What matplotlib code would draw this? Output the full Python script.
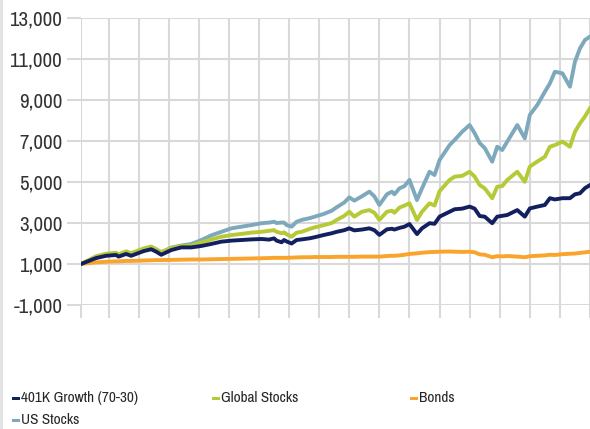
import matplotlib
matplotlib.use("Agg")
import matplotlib.pyplot as plt
from matplotlib.patches import Rectangle

plt.rcParams['font.family'] = ['Archivo Narrow', 'Roboto Condensed', 'DejaVu Sans']

# month index of each sample point
months = [0, 6, 10, 14, 15, 18, 20, 25, 28, 30,
          32, 36, 40, 44, 48, 52, 56, 60, 64, 68,
          72, 75, 77, 78, 80, 81, 82, 84, 86, 88,
          91, 93, 97, 100, 102, 105, 107, 109, 112, 115,
          117, 119, 122, 124, 125, 127, 129, 131, 134, 136,
          139, 141, 143, 147, 149, 152, 155, 157, 159, 161,
          164, 166, 168, 170, 174, 177, 179, 182, 185, 187,
          189, 192, 195, 197, 199, 201, 203]

growth_401k = [1000, 1290, 1400, 1440, 1360, 1490, 1400, 1630, 1720, 1600,
               1450, 1680, 1810, 1810, 1880, 1980, 2090, 2140, 2170, 2200,
               2220, 2190, 2250, 2140, 2060, 2170, 2100, 2000, 2170, 2200,
               2250, 2300, 2420, 2500, 2570, 2650, 2740, 2640, 2680, 2740,
               2650, 2420, 2690, 2720, 2680, 2760, 2820, 2950, 2460, 2740,
               2990, 2960, 3310, 3550, 3670, 3700, 3800, 3700, 3340, 3310,
               2990, 3310, 3350, 3390, 3630, 3310, 3710, 3800, 3880, 4210,
               4150, 4210, 4210, 4400, 4450, 4700, 4850]

global_stocks = [1000, 1380, 1500, 1550, 1470, 1620, 1530, 1760, 1850, 1720,
                 1580, 1780, 1880, 1900, 2050, 2200, 2330, 2410, 2470, 2530,
                 2570, 2620, 2650, 2570, 2500, 2540, 2450, 2330, 2530, 2570,
                 2700, 2780, 2900, 3000, 3150, 3350, 3550, 3310, 3550, 3630,
                 3500, 3150, 3550, 3600, 3500, 3750, 3850, 3960, 3150, 3550,
                 3960, 3850, 4550, 5100, 5260, 5300, 5500, 5260, 4850, 4690,
                 4210, 4770, 4800, 5100, 5500, 5010, 5750, 6000, 6230, 6720,
                 6800, 6970, 6720, 7450, 7860, 8200, 8600]

bonds = [1000, 1080, 1110, 1130, 1130, 1150, 1150, 1170, 1180, 1190,
         1190, 1200, 1210, 1220, 1220, 1230, 1240, 1250, 1260, 1270,
         1280, 1290, 1300, 1300, 1300, 1300, 1300, 1310, 1320, 1330,
         1330, 1340, 1340, 1340, 1350, 1350, 1350, 1350, 1360, 1360,
         1360, 1360, 1390, 1400, 1400, 1420, 1450, 1490, 1520, 1550,
         1580, 1590, 1600, 1610, 1600, 1590, 1600, 1570, 1470, 1450,
         1330, 1380, 1370, 1390, 1360, 1330, 1380, 1400, 1420, 1450,
         1440, 1480, 1500, 1510, 1540, 1570, 1600]

us_stocks = [1000, 1300, 1450, 1500, 1420, 1560, 1480, 1700, 1800, 1700,
             1560, 1800, 1900, 1980, 2170, 2400, 2570, 2740, 2820, 2900,
             2990, 3020, 3060, 3000, 3020, 3020, 2900, 2820, 3060, 3150,
             3230, 3300, 3450, 3600, 3770, 4000, 4250, 4090, 4300, 4530,
             4300, 3880, 4400, 4530, 4400, 4690, 4800, 5100, 4120, 4690,
             5500, 5340, 6070, 6800, 7050, 7450, 7780, 7380, 6900, 6660,
             5990, 6720, 6560, 6970, 7780, 7130, 8270, 8760, 9400, 9810,
             10380, 10300, 9650, 10870, 11520, 11930, 12090]

series_names = ["401K Growth (70-30)", "Global Stocks", "Bonds", "US Stocks"]
series_colors = ["#13205f", "#b6c936", "#f9a42a", "#7ea9bd"]
y_ticks = [-1000, 1000, 3000, 5000, 7000, 9000, 11000, 13000]
x_ticks = [0] + [11 + 12 * k for k in range(17)]

fig = plt.figure(figsize=(5.9, 4.29), dpi=100)
fig.patches.append(Rectangle((0, 0), 3 / 590, 1, transform=fig.transFigure,
                             facecolor="#e3e3e3", edgecolor="none"))
ax = fig.add_axes([81 / 590, 1 - 305 / 429, 1 - 81 / 590, (305 - 18) / 429])

data = [growth_401k, global_stocks, bonds, us_stocks]
zorders = [5, 4, 3, 2]
for vals, col, z, name in zip(data, series_colors, zorders, series_names):
    ax.plot(months, vals, color=col, lw=2.8, zorder=z, label=name, solid_joinstyle="round")

ax.set_xlim(0, 203)
ax.set_ylim(-1000, 13000)
ax.set_yticks(y_ticks)
ax.set_yticklabels([f"{v:,}" for v in y_ticks])
ax.set_xticks(x_ticks)
ax.set_xticklabels([])
ax.grid(True, color="#d9d9d9", lw=1.5, zorder=0)
ax.set_axisbelow(True)
for s in ax.spines.values():
    s.set_visible(False)
ax.tick_params(axis="y", length=10, width=1.5, color="#d9d9d9", pad=3.5,
               labelsize=15, labelcolor="#333333")
ax.tick_params(axis="x", length=9.5, width=1.5, color="#d9d9d9")

# legend
leg_pos = [(12, 398), (212, 398), (410, 398), (12, 420)]
for (px, py), name, col in zip(leg_pos, series_names, series_colors):
    fig.patches.append(Rectangle((px / 590, 1 - (py + 1.5) / 429), 8 / 590, 3 / 429,
                                 transform=fig.transFigure, facecolor=col, edgecolor="none"))
    fig.text((px + 9) / 590, 1 - py / 429, name, fontsize=11, color="#262626",
             ha="left", va="center")

fig.savefig("out.png", dpi=100)
